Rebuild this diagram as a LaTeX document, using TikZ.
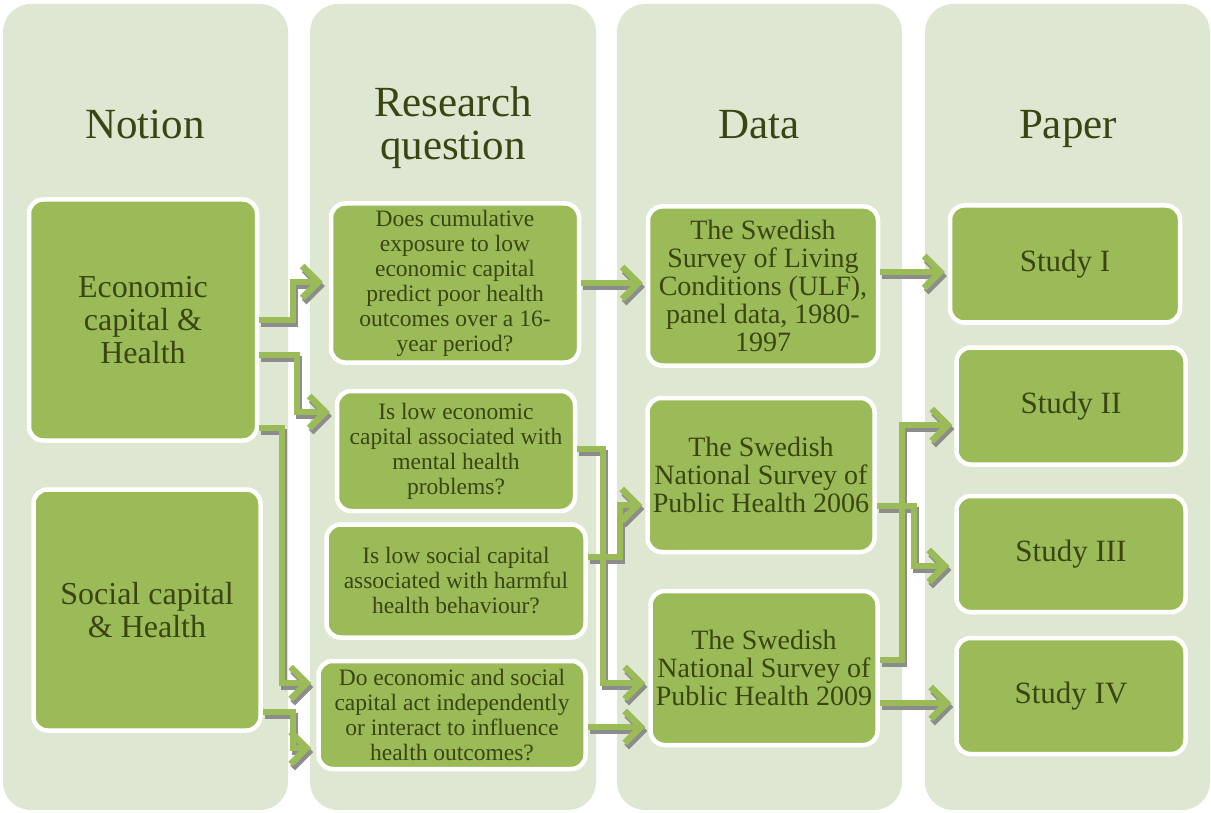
\documentclass[tikz,border=0pt]{standalone}
\usepackage{fontspec}
\setmainfont{Liberation Serif}
\usetikzlibrary{arrows.meta}
\definecolor{colbg}{HTML}{DEE7D1}
\definecolor{boxgreen}{HTML}{9BBB59}
\definecolor{txtcol}{HTML}{3B4512}
\definecolor{shadowgrey}{HTML}{8C8C8C}
\tikzset{
  column/.style={fill=colbg, draw=none, rounded corners=28pt},
  box/.style={fill=boxgreen, draw=white, line width=4.5pt, rounded corners=14pt, align=center, text=txtcol, inner sep=0pt},
  header/.style={text=txtcol, align=center, anchor=base, font=\fontsize{43}{43}\selectfont},
  notionbox/.style={box, font=\fontsize{32}{33}\selectfont},
  rqbox/.style={box, font=\fontsize{23.5}{25}\selectfont},
  databox/.style={box, font=\fontsize{28}{28}\selectfont},
  studybox/.style={box, font=\fontsize{31}{32}\selectfont},
  conn/.style={draw=boxgreen, line width=6pt, -{Straight Barb[length=16pt,width=32pt,line width=6.5pt]}},
  connshadow/.style={draw=shadowgrey, line width=6pt, -{Straight Barb[length=16pt,width=32pt,line width=6.5pt]}, transform canvas={shift={(2pt,-4pt)}}},
}
\begin{document}
\begin{tikzpicture}[x=1pt,y=-1pt]
\useasboundingbox (0,0) rectangle (1211,813);
% columns
\fill[column] (3,4) rectangle (288,810);
\fill[column] (310,4) rectangle (596,810);
\fill[column] (617,4) rectangle (902,810);
\fill[column] (925,4) rectangle (1210,810);
% headers
\node[header] (h1) at (145,139) {Notion};
\node[header] (h2) at (453,160) {Research\\question};
\node[header] (h3) at (759,139) {Data};
\node[header] (h4) at (1068,139) {Paper};
% notion boxes
\node[notionbox, minimum width=228pt, minimum height=241pt] (econ) at (143,320) {Economic\\capital \&\\Health};
\node[notionbox, minimum width=227pt, minimum height=241pt] (soc) at (147,610) {Social capital\\\& Health};
% research questions
\node[rqbox, minimum width=248pt, minimum height=159pt] (rq1) at (455,283) {Does cumulative\\exposure to low\\economic capital\\predict poor health\\outcomes over a 16-\\year period?};
\node[rqbox, minimum width=238pt, minimum height=120pt] (rq2) at (456,451) {Is low economic\\capital associated with\\mental health\\problems?};
\node[rqbox, minimum width=259pt, minimum height=113pt] (rq3) at (456,581) {Is low social capital\\associated with harmful\\health behaviour?};
\node[rqbox, minimum width=267pt, minimum height=108pt] (rq4) at (452,715) {Do economic and social\\capital act independently\\or interact to influence\\health outcomes?};
% data
\node[databox, minimum width=230pt, minimum height=159pt] (d1) at (763,286) {The Swedish\\Survey of Living\\Conditions (ULF),\\panel data, 1980-\\1997};
\node[databox, minimum width=227pt, minimum height=154pt] (d2) at (761,475) {The Swedish\\National Survey of\\Public Health 2006};
\node[databox, minimum width=227pt, minimum height=154pt] (d3) at (764,668) {The Swedish\\National Survey of\\Public Health 2009};
% studies
\node[studybox, minimum width=230pt, minimum height=117pt] (s1) at (1065,264) {Study I};
\node[studybox, minimum width=229pt, minimum height=117pt] (s2) at (1071,406) {Study II};
\node[studybox, minimum width=229pt, minimum height=116pt] (s3) at (1071,554) {Study III};
\node[studybox, minimum width=229pt, minimum height=116pt] (s4) at (1071,696) {Study IV};
% connector shadows then connectors
\foreach \s in {connshadow, conn}{
  \draw[\s] (econ.east |- 0,320) -| (293,282) -- ([xshift=-6pt]rq1.west |- 0,282);
  \draw[\s] (econ.east |- 0,355) -| (297,412) -- ([xshift=-5pt]rq2.west |- 0,412);
  \draw[\s] (econ.east |- 0,428) -| (282,683) -- ([xshift=-5pt]rq4.west |- 0,683);
  \draw[\s] (soc.east |- 0,712) -| (293,748) -- ([xshift=-5pt]rq4.west |- 0,748);
  \draw[\s] (rq1.east |- 0,283) -- ([xshift=-3pt]d1.west |- 0,283);
  \draw[\s] (rq2.east |- 0,449) -| (603,683) -- ([xshift=-3pt]d3.west |- 0,683);
  \draw[\s] (rq3.east |- 0,557) -| (620,505) -- ([xshift=-3pt]d2.west |- 0,505);
  \draw[\s] (rq4.east |- 0,727) -- ([xshift=-3pt]d3.west |- 0,727);
  \draw[\s] (d1.east |- 0,272) -- ([xshift=-3pt]s1.west |- 0,272);
  \draw[\s] (d2.east |- 0,506) -| (914,566) -- ([xshift=-5pt]s3.west |- 0,566);
  \draw[\s] (d3.east |- 0,660) -| (902,425) -- ([xshift=-2pt]s2.west |- 0,425);
  \draw[\s] (d3.east |- 0,703) -- ([xshift=-3pt]s4.west |- 0,703);
}
\end{tikzpicture}
\end{document}
